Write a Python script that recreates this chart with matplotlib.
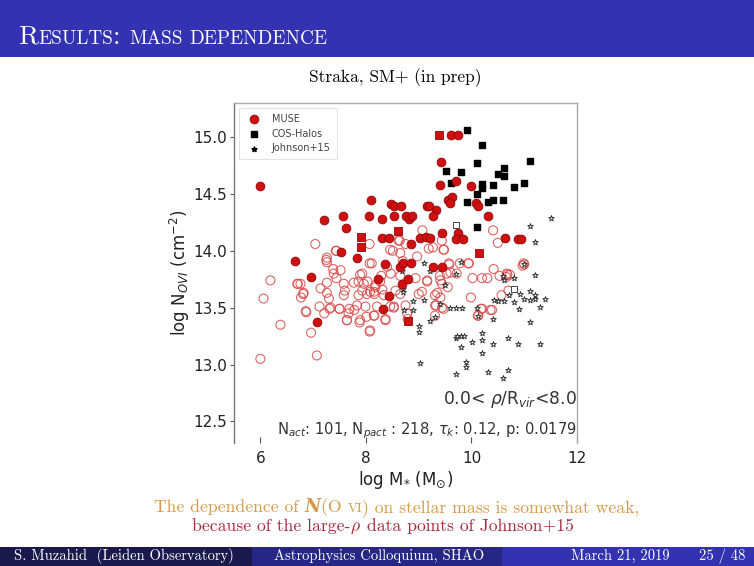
import matplotlib
matplotlib.use("Agg")
import matplotlib.pyplot as plt
from matplotlib.patches import Rectangle
import numpy as np

# ---------------- data ----------------
muse_x = [6.00, 7.21, 7.57, 7.63, 8.10, 8.05, 8.31, 8.47, 8.53, 8.67, 8.54, 8.75, 8.81, 8.87,
          8.30, 8.43, 8.85, 9.02, 9.14, 9.22, 9.16, 9.20, 9.32, 9.28, 9.40, 9.43, 9.62, 9.75,
          9.55, 9.64, 9.60, 9.70, 9.45, 9.74, 9.70, 9.84, 10.00, 10.08, 10.13, 10.32, 10.64,
          10.89, 10.93, 6.65, 6.95, 7.52, 7.84, 8.37, 8.65, 8.71, 8.85, 8.23, 8.68, 8.79,
          9.28, 9.44, 8.43, 7.07, 8.32]
muse_y = [14.57, 14.27, 14.31, 14.20, 14.45, 14.31, 14.28, 14.41, 14.39, 14.39, 14.31, 14.31,
          14.28, 14.31, 14.11, 14.11, 14.06, 14.11, 14.12, 14.11, 14.39, 14.39, 14.36, 14.31,
          14.58, 14.78, 15.02, 15.02, 14.45, 14.47, 14.42, 14.61, 14.16, 14.16, 14.10, 14.10,
          14.57, 14.42, 14.39, 14.31, 14.11, 14.10, 14.10, 13.91, 13.77, 13.99, 13.94, 13.88,
          13.86, 13.89, 13.89, 13.75, 13.71, 13.75, 13.86, 13.86, 13.60, 13.37, 13.49]

muse_sq_x = [8.60, 7.91, 7.91, 9.38, 10.15, 8.79]
muse_sq_y = [14.17, 14.12, 14.03, 15.02, 13.98, 13.38]

open_x = [7.04, 7.26, 7.26, 7.38, 7.44, 6.19, 6.06, 6.38, 6.71, 6.81, 6.77, 6.86, 6.96, 7.26,
          7.30, 7.33, 7.12, 7.21, 7.44, 7.60, 7.58, 7.50, 7.64, 7.69, 7.67, 7.83, 7.86, 7.89,
          7.93, 7.86, 7.89, 7.99, 8.03, 8.07, 8.11, 8.08, 8.16, 8.18, 8.16, 8.21, 8.01, 8.08,
          8.29, 8.31, 8.34, 8.37, 8.46, 8.51, 8.40, 8.47, 8.53, 8.56, 8.64, 8.65, 8.75, 8.70,
          7.43, 7.25, 8.62, 8.46, 9.07, 9.27, 9.48, 9.44, 10.41, 10.50, 10.99, 9.78, 9.95,
          10.02, 10.20, 10.42, 10.53, 10.68, 9.58, 9.53, 9.40, 9.44, 9.55, 9.16, 8.94, 8.97,
          9.06, 9.35, 8.65, 8.07, 7.93, 7.77, 7.52, 7.26, 6.82, 6.70, 9.19, 9.47, 9.94, 9.57,
          9.60, 9.72, 10.30, 10.67, 11.00, 9.41, 9.16, 9.31, 9.41, 9.31, 9.44, 9.00, 9.99,
          10.20, 10.39, 10.12, 10.57, 8.78, 8.79, 9.31, 6.00, 7.07, 8.07, 7.88, 7.64, 7.31,
          7.50, 7.78, 8.15, 8.37, 8.53, 8.65, 8.75, 9.33, 9.47, 10.18, 10.36, 10.13, 10.70,
          10.66, 10.73, 10.97, 6.76, 6.87, 7.14, 7.39, 7.58, 7.96, 8.18, 8.27, 8.15, 8.02]
open_y = [14.06, 13.94, 13.90, 13.84, 14.00, 13.74, 13.58, 13.35, 13.71, 13.62, 13.59, 13.47,
          13.28, 13.63, 13.58, 13.50, 13.51, 13.45, 13.76, 13.65, 13.61, 13.49, 13.39, 13.49,
          13.45, 13.52, 13.73, 13.79, 13.65, 13.61, 13.39, 13.51, 13.73, 14.06, 13.89, 13.64,
          13.62, 13.70, 13.43, 13.51, 13.42, 13.30, 13.78, 13.66, 13.61, 13.40, 13.51, 14.00,
          13.86, 13.80, 13.50, 13.65, 14.09, 13.98, 14.06, 13.91, 14.00, 13.92, 14.09, 14.01,
          14.18, 14.03, 14.01, 14.09, 14.18, 14.07, 13.89, 13.89, 13.89, 13.76, 13.76, 13.84,
          13.78, 13.79, 13.88, 13.80, 13.78, 13.71, 13.68, 13.73, 13.76, 13.95, 13.64, 13.63,
          13.78, 13.89, 13.80, 13.72, 13.83, 13.72, 13.63, 13.71, 14.02, 14.01, 13.89, 13.89,
          13.81, 13.80, 13.76, 13.80, 13.88, 13.74, 13.74, 13.61, 13.59, 13.52, 13.50, 13.62,
          13.59, 13.49, 13.48, 13.43, 13.61, 13.45, 13.40, 13.43, 13.05, 13.08, 13.29, 13.37,
          13.39, 13.49, 13.49, 13.48, 13.43, 13.39, 13.51, 13.62, 13.52, 13.52, 13.49, 13.49,
          13.48, 13.43, 13.65, 13.77, 13.79, 13.87, 13.71, 13.46, 13.67, 13.80, 13.71, 13.71,
          13.68, 13.73, 13.64, 13.62]

cos_x = [9.91, 10.20, 10.11, 9.51, 9.81, 9.61, 10.50, 10.61, 10.61, 11.10, 11.00, 10.81,
         10.20, 10.20, 10.41, 10.11, 9.91, 10.31, 10.41, 10.60, 10.11]
cos_y = [15.06, 14.93, 14.77, 14.70, 14.69, 14.60, 14.68, 14.73, 14.66, 14.79, 14.60, 14.56,
         14.59, 14.55, 14.58, 14.50, 14.43, 14.43, 14.45, 14.45, 14.21]
cos_open_x = [9.71, 10.80]
cos_open_y = [14.23, 13.66]

j15_x = [11.10, 11.51, 11.21, 11.00, 11.21, 9.11, 9.81, 9.22, 9.70, 10.59, 10.61, 10.80,
         8.71, 9.50, 10.42, 10.51, 10.61, 10.72, 10.81, 11.00, 11.10, 11.10, 11.21, 11.40,
         11.30, 10.91, 8.90, 9.11, 9.41, 9.60, 9.71, 9.82, 10.10, 8.90, 8.73, 9.31, 9.22,
         10.12, 10.41, 11.10, 9.01, 9.01, 9.81, 9.71, 10.20, 10.20, 10.01, 10.41, 10.70,
         10.89, 11.30, 9.81, 9.02, 9.90, 9.90, 9.71, 10.31, 10.59, 10.70, 10.20, 9.72, 9.85,
         8.68, 8.70, 10.92, 11.20]
j15_y = [14.22, 14.29, 14.08, 13.88, 13.79, 13.89, 13.90, 13.82, 13.80, 13.78, 13.74, 13.76,
         13.66, 13.70, 13.57, 13.56, 13.56, 13.61, 13.55, 13.58, 13.65, 13.57, 13.61, 13.58,
         13.51, 13.49, 13.56, 13.57, 13.53, 13.50, 13.50, 13.50, 13.50, 13.48, 13.48, 13.42,
         13.38, 13.43, 13.40, 13.37, 13.34, 13.29, 13.25, 13.23, 13.28, 13.22, 13.20, 13.18,
         13.23, 13.18, 13.18, 13.15, 13.01, 13.02, 12.98, 12.92, 12.93, 12.88, 12.95, 13.10,
         13.25, 13.25, 13.82, 13.64, 13.62, 13.58]

x_ticks = [6, 8, 10, 12]
y_ticks = [12.5, 13.0, 13.5, 14.0, 14.5, 15.0]

# ---------------- figure ----------------
W, H = 754, 566
fig = plt.figure(figsize=(W / 100, H / 100), dpi=100)
fig.patch.set_facecolor("white")
renderer = fig.canvas.get_renderer()


def fx(px):
    return px / W


def fy(py):
    return 1 - py / H


def pieces_line(x, y, pieces, align="left", color="black"):
    """Draw a row of text pieces; x is left edge or centre (pixels)."""
    texts = []
    total = 0.0
    for p in pieces:
        txt, sz = p[0], p[1]
        kw = dict(family="cmr10", math_fontfamily="cm")
        if len(p) > 2:
            kw.update(p[2])
        t = fig.text(0, fy(y), txt, fontsize=sz, color=color, ha="left",
                     va="baseline", **kw)
        w = t.get_window_extent(renderer).width
        if not txt.strip():
            w = sz * 0.33 * 100 / 72
        texts.append((t, w))
        total += w
    start = x - total / 2 if align == "center" else x
    for t, w in texts:
        t.set_x(fx(start))
        start += w


blue = "#3333B2"
fig.patches.append(Rectangle((0, fy(57)), 1, 57 / H, transform=fig.transFigure,
                             facecolor=blue, edgecolor="none", zorder=0))
fig.patches.append(Rectangle((0, 0), fx(252), 19 / H, transform=fig.transFigure,
                             facecolor="#19194D", edgecolor="none", zorder=0))
fig.patches.append(Rectangle((fx(252), 0), fx(250), 19 / H, transform=fig.transFigure,
                             facecolor="#262685", edgecolor="none", zorder=0))
fig.patches.append(Rectangle((fx(502), 0), 1 - fx(502), 19 / H, transform=fig.transFigure,
                             facecolor=blue, edgecolor="none", zorder=0))

# small caps title
pieces_line(18, 44, [("R", 19.5), ("ESULTS", 13.8), (":", 19.5), (" ", 19.5),
                     ("MASS", 13.8), (" ", 13.8), ("DEPENDENCE", 13.8)],
            color="white")

fig.text(fx(395), fy(78), "Straka, SM+ (in prep)", fontsize=12.5, family="cmr10",
         ha="center", va="center", color="black")

# captions
pieces_line(397, 512, [("The dependence of ", 12.7),
                       ("N", 12.7, dict(family="DejaVu Serif", style="italic",
                                        weight="bold")),
                       ("(O ", 12.7), ("VI", 9.5), (") on stellar mass is somewhat weak,", 12.7)],
            align="center", color="#D49A4A")
pieces_line(383, 531, [("because of the large-", 12.7), (r"$\rho$", 12.7),
                       (" data points of Johnson+15", 12.7)],
            align="center", color="#A8283C")

# footer text
fig.text(fx(124), fy(556), "S. Muzahid  (Leiden Observatory)", fontsize=10.5, family="cmr10",
         ha="center", va="center", color="white")
fig.text(fx(379), fy(556), "Astrophysics Colloquium, SHAO", fontsize=10.5, family="cmr10",
         ha="center", va="center", color="white")
fig.text(fx(620), fy(556), "March 21, 2019", fontsize=10.5, family="cmr10",
         ha="center", va="center", color="white")
fig.text(fx(722), fy(556), "25 / 48", fontsize=10.5, family="cmr10",
         ha="center", va="center", color="white")

# ---------------- chart ----------------
ax = fig.add_axes([fx(234), fy(443), (577 - 234) / W, (443 - 103) / H])
ax.set_xlim(5.5, 12)
ax.set_ylim(12.31, 15.3)

ax.scatter(open_x, open_y, s=42, facecolors="none", edgecolors="#D94A4A", linewidths=0.8,
           alpha=0.85, zorder=2)
ax.scatter(j15_x, j15_y, s=18, marker="*", facecolors="white", edgecolors="#222222",
           linewidths=0.6, zorder=3)
ax.scatter(cos_x, cos_y, s=20, marker="s", color="black", zorder=3)
ax.scatter(cos_open_x, cos_open_y, s=20, marker="s", facecolors="white",
           edgecolors="#444444", linewidths=0.7, zorder=3)
ax.scatter(muse_x, muse_y, s=40, color="#D01010", edgecolors="#8A0A0A", linewidths=0.6,
           zorder=4)
ax.scatter(muse_sq_x, muse_sq_y, s=32, marker="s", color="#D01010", edgecolors="#8A0A0A",
           linewidths=0.6, zorder=4)

h1 = ax.scatter([], [], s=40, color="#D01010", edgecolors="#8A0A0A", linewidths=0.6)
h2 = ax.scatter([], [], s=14, marker="s", color="black")
h3 = ax.scatter([], [], s=14, marker="*", color="black")
leg = ax.legend([h1, h2, h3], ["MUSE", "COS-Halos", "Johnson+15"], loc="upper left",
                fontsize=7, frameon=True, borderpad=0.6, labelspacing=0.5,
                handletextpad=0.8, bbox_to_anchor=(0.0, 1.0))
leg.get_frame().set_edgecolor("#DDDDDD")
leg.get_frame().set_linewidth(0.8)
leg.get_frame().set_boxstyle("square", pad=0.0)
for t in leg.get_texts():
    t.set_color("#444444")

ax.set_xticks(x_ticks)
ax.set_yticks(y_ticks)
ax.set_xticklabels([str(v) for v in x_ticks], fontsize=11, color="#222222")
ax.set_yticklabels([f"{v:.1f}" for v in y_ticks], fontsize=11, color="#222222")
ax.tick_params(axis="y", length=3, width=0.8, color="#555555", pad=2)
ax.tick_params(axis="x", length=4, width=0.8, color="#555555", direction="in", pad=6)

for s in ["top", "right"]:
    ax.spines[s].set_color("#AAAAAA")
    ax.spines[s].set_linewidth(1.0)
ax.spines["left"].set_color("#777777")
ax.spines["left"].set_linewidth(1.0)
ax.spines["bottom"].set_visible(False)

ax.set_xlabel(r"log M$_{*}$ (M$_{\odot}$)", fontsize=12, color="#222222", labelpad=2)
ax.set_ylabel(r"log N$_{OVI}$ (cm$^{-2}$)", fontsize=12, color="#222222", labelpad=1)

ax.text(1.0, 0.128, r"0.0< $\rho$/R$_{vir}$<8.0", transform=ax.transAxes, ha="right",
        va="center", fontsize=12.3, color="#333333")
ax.text(1.0, 0.035, r"N$_{act}$: 101, N$_{pact}$ : 218, $\tau_k$: 0.12, p: 0.0179",
        transform=ax.transAxes, ha="right", va="center", fontsize=10.6, color="#333333")

fig.savefig("out.png", dpi=100)
